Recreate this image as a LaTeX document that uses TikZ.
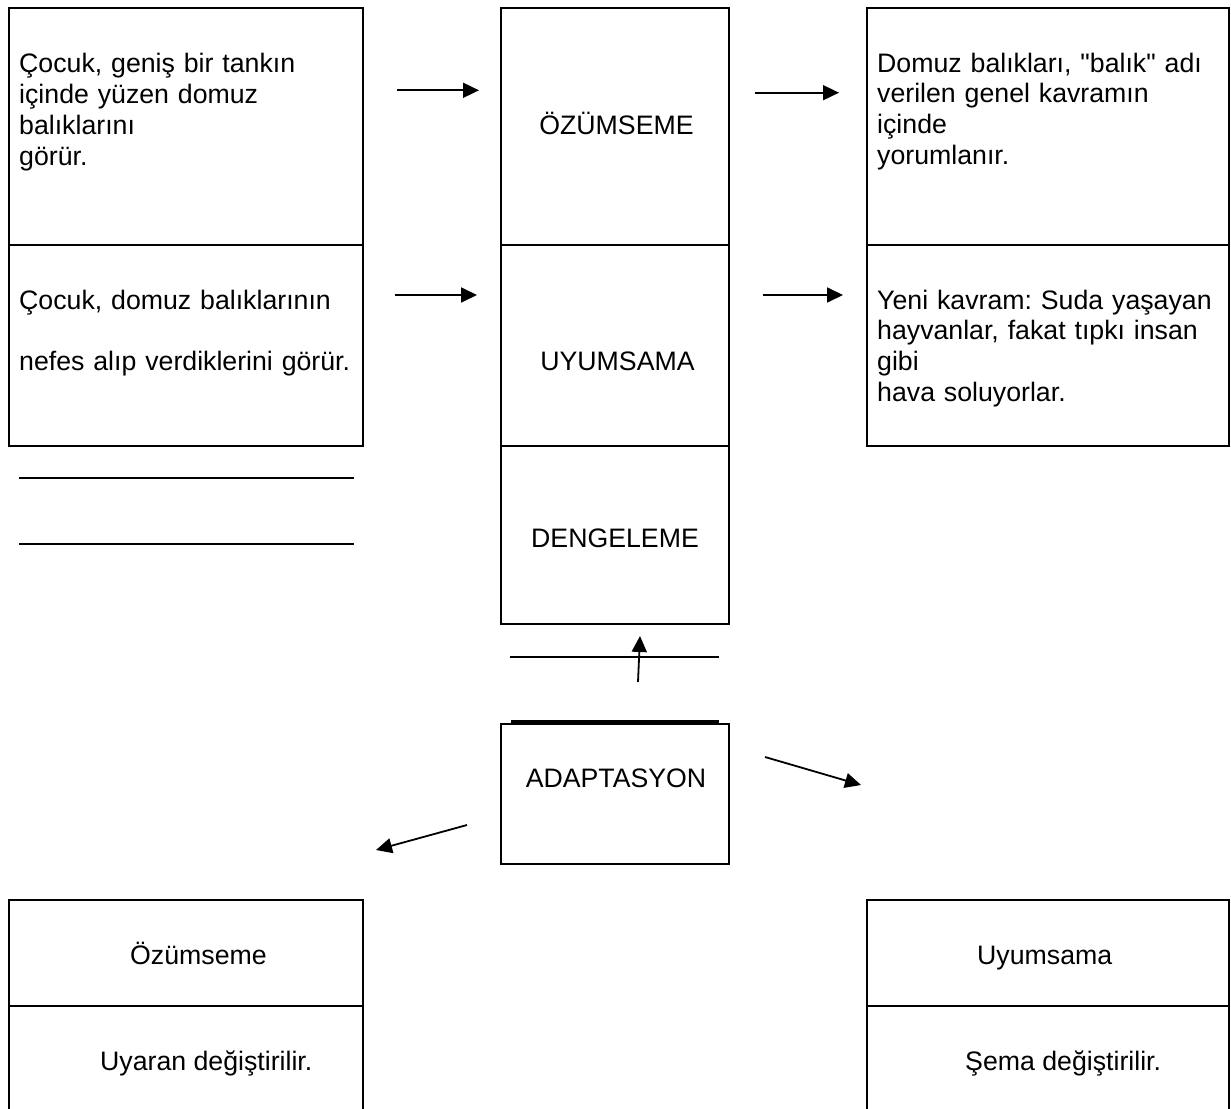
\documentclass[tikz,border=0pt]{standalone}
\usepackage{fontspec}
\setmainfont{Liberation Sans}
\usetikzlibrary{arrows.meta}
\frenchspacing
\newcommand{\sq}{\XeTeXglyph\the\XeTeXcharglyph"0022\relax}
\begin{document}
\begin{tikzpicture}[x=1pt,y=-1pt,
  box/.style={draw, line width=2pt, inner sep=0pt, outer sep=0pt, anchor=north west},
  txt/.style={font=\fontsize{26.7}{30.8}\selectfont, inner sep=0pt},
  para/.style={txt, anchor=base west, text width=345pt, align=left},
  arr/.style={line width=1.8pt, -{Triangle[length=16pt,width=15pt]}},
  rule/.style={line width=2pt}]
\useasboundingbox (0,0) rectangle (1231,1108);
\clip (0,0) rectangle (1231,1108);
% left boxes
\node[box, minimum width=354pt, minimum height=237pt] (lt) at (9,8) {};
\node[box, minimum width=354pt, minimum height=201pt] (lb) at (9,245) {};
% middle column
\node[box, minimum width=228pt, minimum height=237pt] (mt) at (501,8) {};
\node[box, minimum width=228pt, minimum height=201pt] (mm) at (501,245) {};
\node[box, minimum width=228pt, minimum height=178pt] (mb) at (501,446) {};
% right boxes
\node[box, minimum width=362pt, minimum height=237pt] (rt) at (867,8) {};
\node[box, minimum width=362pt, minimum height=201pt] (rb) at (867,245) {};
% adaptasyon
\node[box, minimum width=228pt, minimum height=140pt] (ad) at (501,724) {};
% bottom boxes
\node[box, minimum width=354pt, minimum height=106pt] (bl1) at (9,900) {};
\node[box, minimum width=354pt, minimum height=140pt] (bl2) at (9,1006) {};
\node[box, minimum width=362pt, minimum height=106pt] (br1) at (867,900) {};
\node[box, minimum width=362pt, minimum height=140pt] (br2) at (867,1006) {};

% texts
\node[para] (ltt) at (19,72.7) {Çocuk, geniş bir tankın\\içinde yüzen domuz\\balıklarını\\görür.};
\node[para] (lbt) at (19,309) {Çocuk, domuz balıklarının\\[30.8pt]nefes alıp verdiklerini görür.};
\node[para] (rtt) at (877,72) {Domuz balıkları, \sq balık\sq{} adı\\verilen genel kavramın\\içinde\\yorumlanır.};
\node[para] (rbt) at (877,309) {Yeni kavram: Suda yaşayan\\hayvanlar, fakat tıpkı insan\\gibi\\hava soluyorlar.};
\node[txt, anchor=base] (t1) at (616.5,134.3) {ÖZÜMSEME};
\node[txt, anchor=base] (t2) at (617.5,370) {UYUMSAMA};
\node[txt, anchor=base] (t3) at (615,547) {DENGELEME};
\node[txt, anchor=base] (t4) at (616,787) {ADAPTASYON};
\node[txt, anchor=base west] (t5) at (130,964) {Özümseme};
\node[txt, anchor=base west] (t6) at (100,1070) {Uyaran değiştirilir.};
\node[txt, anchor=base west] (t7) at (977,964) {Uyumsama};
\node[txt, anchor=base west] (t8) at (965,1070) {Şema değiştirilir.};

% free lines
\coordinate (r1a) at (19,478); \coordinate (r1b) at (354,478);
\coordinate (r2a) at (19,544); \coordinate (r2b) at (354,544);
\coordinate (r3a) at (510,657); \coordinate (r3b) at (719,657);
\coordinate (r4a) at (511,721.5); \coordinate (r4b) at (719,721.5);
\draw[rule] (r1a) -- (r1b);
\draw[rule] (r2a) -- (r2b);
\draw[rule] (r3a) -- (r3b);
\draw[line width=3pt] (r4a) -- (r4b);

% arrows
\coordinate (a1s) at (397,90.3);  \coordinate (a1e) at (479,90.3);
\coordinate (a2s) at (755,92.7);  \coordinate (a2e) at (839,92.7);
\coordinate (a3s) at (395,295);   \coordinate (a3e) at (477,295);
\coordinate (a4s) at (763,295);   \coordinate (a4e) at (843,295);
\coordinate (a5s) at (638,682);   \coordinate (a5e) at (640,636);
\coordinate (a6s) at (467,825);   \coordinate (a6e) at (376,850);
\coordinate (a7s) at (765,757);   \coordinate (a7e) at (861,785);
\draw[arr] (a1s) -- (a1e);
\draw[arr] (a2s) -- (a2e);
\draw[arr] (a3s) -- (a3e);
\draw[arr] (a4s) -- (a4e);
\draw[arr] (a5s) -- (a5e);
\draw[arr] (a6s) -- (a6e);
\draw[arr] (a7s) -- (a7e);
\end{tikzpicture}
\end{document}
